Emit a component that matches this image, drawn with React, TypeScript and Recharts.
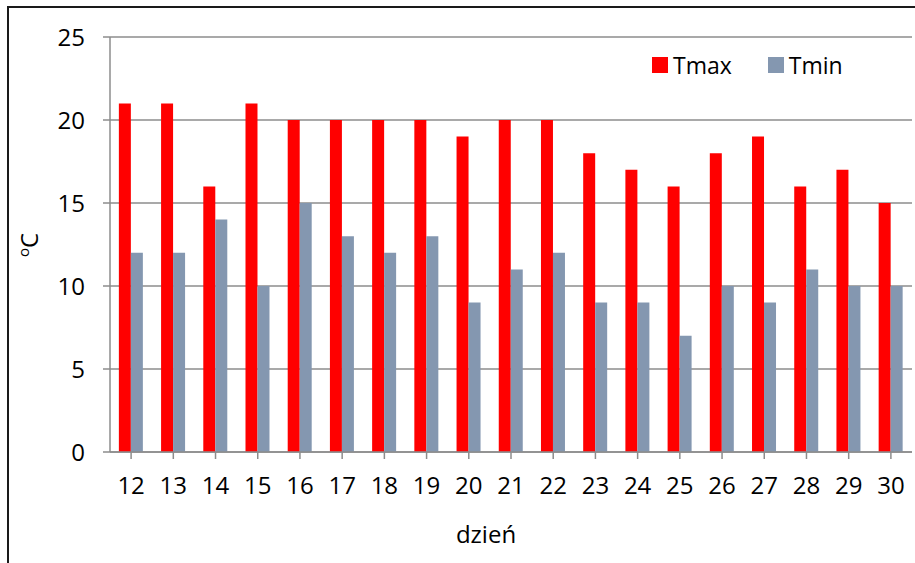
import { BarChart, Bar, XAxis, YAxis, CartesianGrid } from "recharts";

const days = ["12", "13", "14", "15", "16", "17", "18", "19", "20", "21", "22", "23", "24", "25", "26", "27", "28", "29", "30"];
const tmax = [21, 21, 16, 21, 20, 20, 20, 20, 19, 20, 20, 18, 17, 16, 18, 19, 16, 17, 15];
const tmin = [12, 12, 14, 10, 15, 13, 12, 13, 9, 11, 12, 9, 9, 7, 10, 9, 11, 10, 10];
const yTicks = [0, 5, 10, 15, 20, 25];

const data = days.map((d, i) => ({ day: d, Tmax: tmax[i], Tmin: tmin[i] }));

const FONT = "'Open Sans', sans-serif";
const FS = 24;
const GRID = "#8c8c8c";
const RED = "#ff0000";
const BLUE = "#8497b0";

const LegendBox = () => (
  <div
    style={{
      position: "absolute",
      left: 652,
      top: 49,
      display: "flex",
      alignItems: "center",
      fontFamily: FONT,
      fontSize: FS - 1,
      color: "#000",
      lineHeight: "32px",
    }}
  >
    <span style={{ width: 16, height: 16, background: RED, display: "inline-block", marginRight: 5 }} />
    <span style={{ marginRight: 36 }}>Tmax</span>
    <span style={{ width: 16, height: 16, background: BLUE, display: "inline-block", marginRight: 5 }} />
    <span>Tmin</span>
  </div>
);

const YLabel = () => (
  <text x={38} y={245} transform="rotate(-90 38 245)" textAnchor="middle" fontFamily={FONT} fontSize={FS} fill="#000">
    <tspan fontSize={15} dy={-9}>o</tspan>
    <tspan dy={9}>C</tspan>
  </text>
);

const XLabel = () => (
  <text x={486} y={543} textAnchor="middle" fontFamily={FONT} fontSize={FS} fill="#000">
    dzień
  </text>
);

export default function App() {
  return (
    <div style={{ position: "absolute", left: 0, top: 0, width: 915, height: 563, background: "#fff", overflow: "hidden" }}>
      <div style={{ position: "absolute", left: 7, top: 6, width: 940, height: 600, border: "2px solid #1a1a1a" }} />
      <div style={{ position: "absolute", left: 0, top: 0 }}>
        <BarChart
          width={915}
          height={563}
          data={data}
          margin={{ top: 37, right: 3, left: 0, bottom: 0 }}
          barCategoryGap="21%"
          barGap={0}
        >
          <CartesianGrid vertical={false} stroke={GRID} strokeWidth={1.5} />
          <XAxis
            dataKey="day"
            height={111}
            tickSize={7}
            tickMargin={18}
            axisLine={{ stroke: GRID, strokeWidth: 1.5 }}
            tickLine={{ stroke: GRID, strokeWidth: 1.5 }}
            tick={{ fill: "#000", fontFamily: FONT, fontSize: FS }}
            interval={0}
            label={<XLabel />}
          />
          <YAxis
            domain={[0, 25]}
            ticks={yTicks}
            width={110}
            tickSize={7}
            tickMargin={18}
            axisLine={{ stroke: GRID, strokeWidth: 1.5 }}
            tickLine={{ stroke: GRID, strokeWidth: 1.5 }}
            tick={{ fill: "#000", fontFamily: FONT, fontSize: FS }}
            label={<YLabel />}
          />
          <Bar dataKey="Tmax" fill={RED} isAnimationActive={false} />
          <Bar dataKey="Tmin" fill={BLUE} isAnimationActive={false} />
        </BarChart>
      </div>
      <LegendBox />
    </div>
  );
}
